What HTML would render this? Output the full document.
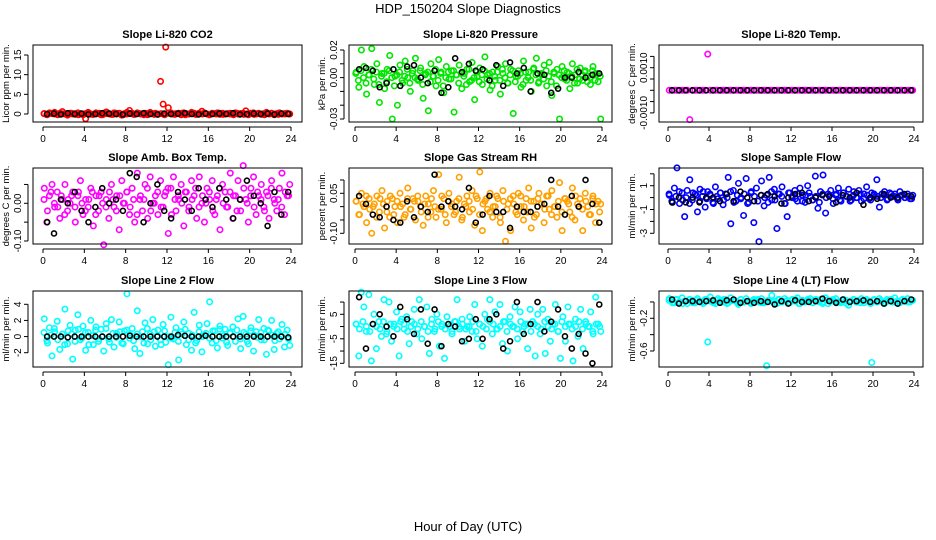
<!DOCTYPE html>
<html><head><meta charset="utf-8"><title>HDP_150204 Slope Diagnostics</title>
<style>
html,body{margin:0;padding:0;background:#fff;}
svg{display:block;font-family:"Liberation Sans",Arial,sans-serif;}
</style></head>
<body>
<svg id="chart" width="936" height="540" viewBox="0 0 936 540" xmlns="http://www.w3.org/2000/svg">
<rect x="0" y="0" width="936" height="540" fill="#fff"/>
<text x="468" y="13" text-anchor="middle" font-size="13">HDP_150204  Slope Diagnostics</text>
<text x="468" y="531" text-anchor="middle" font-size="13">Hour of Day (UTC)</text>
</svg>
<script>
const xTicks = [0,4,8,12,16,20,24];

const co2Color = [0.1,-0.2,0.3,0.1,0.4,-0.1,0.2,0.6,0.1,-0.3,0.2,0.0,-0.1,0.3,0.1,-0.2,-1.2,0.4,0.0,-0.1,0.3,0.1,-0.2,0.2,0.5,0.1,-0.1,0.3,0.0,0.2,-0.3,0.1,0.4,0.9,0.2,-0.1,0.3,0.1,0.0,0.2,-0.2,0.4,0.1,0.2,-0.1,8.3,2.5,17.0,1.6,0.3,0.0,0.1,0.2,-0.2,0.3,0.1,0.0,0.4,0.2,-0.1,0.1,0.7,0.3,0.0,-0.2,0.2,0.1,0.3,-0.1,0.2,0.0,0.1,0.2,-0.1,0.3,0.0,0.1,0.2,0.8,-0.2,0.1,0.3,0.0,0.2,-0.1,0.1,0.4,0.0,0.2,-0.2,0.1,0.3,0.0,0.1,0.2,0.0];
const co2Core = [0.1,-0.1,0.2,0.0,-0.2,0.1,0.0,-0.1,0.2,0.1,-0.2,0.0,0.1,0.2,-0.1,0.0,0.2,-0.2,0.1,0.0,-0.1,0.2,0.1,-0.2,0.0,0.1,-0.1,0.2,0.0,-0.2,0.1,0.2,-0.1,0.0,0.1,-0.2,0.2,0.0,-0.1,0.1,0.2,-0.2,0.0,0.1,-0.1,0.2,0.0,0.1,-0.2,0.1,0.0,0.2,-0.1,0.1,0.0,-0.2,0.2,0.1,-0.1,0.0,0.2,-0.1,0.1,0.0,-0.2,0.1,0.2,0.0,-0.1,0.1,0.0,0.1];
const co2Black = [0,0.1,-0.1,0.2,0,0.1,-0.1,0,0.2,0.1,0,-0.1,0.1,0,0.2,0,-0.1,0.1,0,0.1,0.2,0,-0.1,0.1,0,0.1,0,0.2,-0.1,0,0.1,0,0.1,-0.1,0.1,0];

const presColor = [0.004,-0.007,0.020,0.008,-0.012,0.002,0.021,-0.005,0.010,-0.018,0.003,-0.008,0.006,0.016,-0.030,0.001,-0.020,0.009,-0.004,0.012,0.000,-0.010,0.005,0.014,-0.002,0.007,-0.015,0.003,-0.024,0.010,0.001,-0.006,0.013,0.004,-0.011,0.008,-0.001,0.005,-0.025,0.002,0.009,-0.008,0.003,0.006,-0.003,0.011,-0.016,0.001,0.007,-0.005,0.015,0.002,-0.009,0.004,-0.002,0.008,-0.012,0.003,0.010,-0.004,0.006,-0.026,0.001,0.005,-0.007,0.012,-0.002,0.004,-0.010,0.007,0.014,-0.003,0.002,0.009,-0.006,0.011,-0.013,0.003,0.006,-0.030,0.008,-0.001,0.004,-0.008,0.010,0.002,-0.004,0.007,-0.002,0.005,0.001,-0.005,0.008,0.003,-0.003,-0.030];
const presCore = [0.003,-0.002,0.005,0.000,-0.004,0.002,0.006,-0.001,0.004,-0.005,0.001,0.003,-0.003,0.005,0.000,-0.006,0.002,0.004,-0.002,0.001,0.006,-0.004,0.003,0.000,-0.001,0.005,-0.005,0.002,0.004,-0.003,0.001,0.006,-0.002,0.003,-0.006,0.000,0.004,-0.001,0.005,0.002,-0.004,0.003,0.001,-0.005,0.006,-0.002,0.000,0.004,-0.003,0.002,0.005,-0.001,0.003,-0.006,0.001,0.004,-0.002,0.006,0.000,-0.004,0.002,0.005,-0.003,0.001,0.003,-0.005,0.004,0.000,-0.002,0.006,0.002,-0.004,0.003,-0.001,0.005,0.001,-0.003,0.004,-0.006,0.002,0.000,0.005,-0.002,0.003,0.001,-0.004,0.006,-0.001,0.002,0.004,-0.003,0.000,0.005,-0.002,0.003,0.001];
const presBlack = [0.006,0.007,0.005,-0.007,-0.004,0.006,-0.006,0.008,0.009,0.000,-0.004,0.005,-0.011,-0.007,0.014,0.004,0.010,0.005,0.006,-0.002,0.009,-0.006,0.011,0.003,0.007,-0.010,0.003,0.002,-0.011,-0.008,0.000,0.000,0.004,0.000,0.002,0.003];

const tempColor = [0,0,0,0,0,0,0,0,-0.0013,0,0,0,0,0,0,0.0016,0,0,0,0,0,0,0,0,0,0,0,0,0,0,0,0,0,0,0,0,0,0,0,0,0,0,0,0,0,0,0,0,0,0,0,0,0,0,0,0,0,0,0,0,0,0,0,0,0,0,0,0,0,0,0,0,0,0,0,0,0,0,0,0,0,0,0,0,0,0,0,0,0,0,0,0,0,0,0,0];
const tempCore = [];
const tempBlack = [0,0,0,0,0,0,0,0,0,0,0,0,0,0,0,0,0,0,0,0,0,0,0,0,0,0,0,0,0,0,0,0,0,0,0,0];

const boxColor = [0.04,-0.05,0.02,0.05,-0.01,0.03,-0.04,0.01,0.05,-0.02,0.00,0.03,-0.05,0.02,0.06,-0.03,0.01,-0.01,0.04,-0.06,0.02,-0.02,0.03,-0.11,0.01,-0.04,0.05,-0.01,0.02,-0.07,0.06,0.00,0.03,-0.03,0.04,-0.05,0.08,0.01,-0.02,0.05,-0.04,0.07,0.00,0.02,-0.03,0.06,-0.01,0.03,-0.08,0.04,0.07,-0.02,0.01,0.05,-0.06,0.03,-0.01,0.06,0.02,-0.04,0.07,0.00,-0.05,0.04,0.01,0.06,-0.03,0.02,-0.07,0.05,0.03,-0.01,0.08,-0.04,0.02,0.06,-0.02,0.10,0.01,-0.05,0.04,0.07,-0.03,0.02,0.05,-0.01,0.03,-0.04,0.06,0.01,-0.02,0.04,0.08,-0.03,0.02,0.05];
const boxCore = [0.01,-0.02,0.03,0.00,-0.01,0.02,-0.03,0.01,0.02,-0.01,0.03,0.00,-0.02,0.01,0.03,-0.03,0.02,0.00,-0.01,0.03,0.01,-0.02,0.02,0.00,0.03,-0.01,0.01,-0.03,0.02,0.01,0.04,-0.02,0.00,0.03,-0.01,0.02,0.04,-0.03,0.01,0.02,0.00,0.03,-0.02,0.01,0.04,-0.01,0.02,0.00,0.03,-0.02,0.01,0.04,0.00,-0.01,0.03,0.02,-0.02,0.01,0.04,0.00,0.02,-0.01,0.03,0.01,-0.02,0.02,0.04,0.00,0.01,-0.01,0.03,0.02];
const boxBlack = [-0.05,-0.08,0.01,0.00,0.03,-0.02,-0.05,-0.01,0.04,0.00,0.01,-0.02,0.08,0.07,-0.05,0.00,0.05,-0.02,-0.04,0.03,0.01,-0.02,0.04,0.01,-0.01,0.04,0.01,-0.04,0.01,0.06,0.02,0.00,-0.06,0.03,-0.03,0.03];

const rhColor = [0.02,-0.03,0.05,0.00,-0.06,0.03,-0.10,0.01,0.04,-0.02,0.06,-0.08,0.02,-0.04,0.03,0.00,-0.06,0.05,0.01,-0.03,0.07,-0.01,0.03,-0.05,0.02,0.00,-0.07,0.04,0.01,-0.02,0.06,-0.04,0.12,-0.01,0.03,-0.06,0.05,0.00,-0.03,0.02,0.11,-0.05,0.01,0.04,-0.02,0.06,-0.07,0.03,0.13,-0.09,0.02,-0.01,0.05,-0.04,0.00,0.03,-0.06,0.06,-0.13,0.01,-0.09,0.04,-0.02,0.05,0.00,-0.05,0.03,0.07,-0.08,0.02,-0.03,0.05,0.01,-0.06,0.04,-0.01,0.06,0.00,-0.04,0.09,-0.09,0.03,0.02,-0.02,0.07,-0.05,0.01,0.03,-0.09,0.05,0.00,-0.03,0.04,-0.06,0.02,0.01];
const rhCore = [0.02,-0.03,0.01,0.04,-0.01,0.00,-0.04,0.03,0.01,-0.02,0.04,-0.03,0.02,0.00,-0.04,0.03,-0.01,0.02,0.04,-0.02,0.01,-0.04,0.03,0.00,-0.01,0.04,-0.03,0.02,0.01,-0.02,0.03,-0.04,0.00,0.02,-0.01,0.04,-0.03,0.01,0.03,-0.02,0.00,0.04,-0.04,0.02,-0.01,0.03,0.01,-0.03,0.04,0.00,-0.02,0.02,-0.04,0.03,0.01,-0.01,0.04,-0.03,0.00,0.02,-0.02,0.03,0.01,-0.04,0.04,0.00,-0.01,0.02,-0.03,0.03,0.01,-0.02];
const rhBlack = [0.04,0.01,-0.03,-0.04,0.00,-0.05,-0.06,0.02,-0.04,0.00,-0.02,0.12,0.00,0.02,0.00,-0.01,0.07,-0.06,-0.03,0.04,-0.02,-0.02,-0.08,0.00,-0.02,-0.02,0.00,0.01,0.10,0.00,-0.03,0.04,0.00,0.10,0.01,-0.06];

const flowColor = [0.2,-0.3,0.8,2.5,-0.5,0.4,-1.6,0.6,1.5,-0.2,0.3,-1.2,0.7,0.1,-0.8,0.5,0.2,-0.4,0.9,-0.1,0.4,-0.6,0.3,1.7,-2.2,0.6,-0.3,1.2,0.0,-1.5,1.6,-0.4,0.5,-2.1,0.8,-3.7,1.4,-0.7,0.2,1.7,-0.2,0.7,-2.6,0.3,0.9,-0.5,-1.6,0.4,0.1,0.6,-0.3,0.8,0.2,-0.4,1.0,0.1,-0.2,1.8,-0.9,0.5,1.9,-1.3,0.3,0.6,-0.5,0.2,0.8,-0.3,0.4,0.1,0.7,-0.2,0.5,0.0,0.6,-0.3,0.3,0.9,-0.1,0.4,0.2,1.5,-0.8,0.3,0.5,-0.2,0.4,0.1,0.3,-0.1,0.5,0.2,0.0,0.3,-0.1,0.2];
const flowCore = [0.3,-0.4,0.1,0.5,-0.2,0.0,-0.5,0.4,0.2,-0.3,0.5,-0.1,0.3,-0.5,0.1,0.4,-0.2,0.0,0.5,-0.4,0.2,-0.1,0.3,-0.5,0.4,0.1,-0.3,0.2,0.0,-0.4,0.5,-0.2,0.3,0.1,-0.5,0.4,0.0,-0.1,0.3,-0.3,0.2,0.4,-0.2,0.1,-0.4,0.3,0.0,0.2,-0.1,0.3,-0.2,0.4,0.1,-0.3,0.2,0.0,0.3,-0.1,0.2,-0.2,0.3,0.1,0.0,0.2,-0.1,0.3,0.1,-0.2,0.2,0.0,0.1,-0.1];
const flowBlack = [-0.4,0.0,-0.4,0.0,-0.4,0.0,0.0,-0.3,0.3,-0.3,0.5,0.0,-0.3,0.2,0.3,0.1,-0.5,0.0,0.3,0.4,-0.3,0.0,0.2,0.1,-0.4,0.2,0.0,0.4,-0.6,0.0,-0.1,0.3,0.0,0.0,0.3,0.1];

const line2Color = [2.2,-0.5,1.1,-2.4,0.6,1.9,-1.6,0.3,3.4,-0.9,1.4,-2.8,0.8,2.7,-0.4,1.3,-1.7,0.5,2.0,-1.0,1.2,-0.6,0.9,-1.8,1.6,-0.3,2.1,-1.3,0.4,1.8,-0.8,0.7,5.3,-0.2,1.0,-1.5,3.2,-2.1,0.6,1.7,-0.9,0.3,2.1,-1.2,0.8,-0.4,1.5,-0.7,-3.5,2.4,-0.3,1.1,-2.9,0.6,1.8,-1.0,0.4,-1.7,3.0,-0.5,1.4,-1.9,0.2,1.6,4.3,-0.8,0.7,-1.4,1.3,-0.2,0.9,-1.1,0.5,1.2,-0.6,2.2,-1.5,2.5,0.3,-0.9,1.1,-1.8,0.6,2.1,-0.4,1.0,-2.2,0.7,2.0,-1.6,0.4,-0.3,1.5,-1.3,0.8,-1.1];
const line2Core = [0.5,-0.8,0.2,1.0,-0.4,0.0,-1.0,0.7,0.3,-0.6,0.9,-0.2,0.5,-1.0,0.1,0.8,-0.3,0.0,1.0,-0.7,0.4,-0.1,0.6,-0.9,0.8,0.2,-0.5,0.3,0.0,-0.8,1.0,-0.4,0.6,0.1,-1.0,0.7,0.0,-0.2,0.5,-0.6,0.3,0.9,-0.4,0.2,-0.8,0.6,0.0,0.4,-0.2,0.7,-0.5,0.9,0.1,-0.7,0.4,0.0,0.8,-0.3,0.5,-0.6,0.7,0.2,-0.1,0.5,-0.4,0.8,0.2,-0.5,0.6,0.0,0.3,-0.3];
const line2Black = [0,0,0,-0.1,0,0,0,0,0,0,0,0,0.1,0,0,0,0,0,0,0.2,0.1,0,0,0.1,0,0,0,0,0,0,0,0,0,0,0,-0.1];

const line3Color = [1,-12,14,8,-2,13,-14,5,-9,2,-4,11,-3,10,-6,1,6,-12,3,-1,4,-7,2,7,-3,11,-5,0,8,-11,3,-2,5,-8,1,-13,4,0,-3,2,11,-1,3,-6,0,4,-2,9,-5,1,-8,5,3,11,-3,6,-1,9,-7,2,-10,4,0,8,-5,6,-2,1,-9,7,2,-12,5,-3,7,-11,3,-6,1,9,-2,-13,4,-6,8,1,-14,3,-4,7,-9,2,0,6,-3,12,1,-2];
const line3Core = [1,-1,2,0,-2,1,0,-1,2,-2,1,0,-1,2,1,-2,0,1,-1,2,0,-2,1,-1,2,0,-1,1,-2,2,0,1,-1,0,2,-2,1,0,-1,2,1,-1,0,2,-2,1,0,-1,2,0,1,-2,1,0,-1,2,0,-1,1,-2,2,0,1,-1,0,2,-1,1,0,-2,1,0];
const line3Black = [12,-9,1,5,0,-4,8,3,-3,7,-7,7,-8,1,0,-6,-5,3,-5,3,5,-9,-6,10,-3,1,10,-2,2,7,-4,-9,-3,-11,-15,9];

const line4Color = [0.04,0.02,-0.01,0.03,0.00,0.05,0.01,-0.02,0.03,0.02,-0.01,0.04,0.01,0.00,0.03,-0.49,0.06,0.01,-0.02,0.04,0.02,0.00,0.03,-0.01,0.05,0.02,0.01,-0.03,0.03,0.00,0.04,0.01,-0.01,0.03,0.02,0.00,0.04,-0.01,-0.78,0.02,0.08,0.01,-0.02,0.03,0.00,0.04,0.02,-0.01,0.03,0.01,0.05,-0.02,0.02,0.00,0.03,0.04,-0.01,0.02,0.01,0.03,0.00,0.05,-0.02,0.02,0.01,0.04,0.00,-0.01,0.03,0.02,-0.04,0.01,0.03,0.00,0.02,0.04,-0.01,0.03,0.01,-0.74,0.02,0.00,0.04,0.01,-0.02,0.03,0.02,0.00,0.05,0.01,-0.01,0.03,0.02,0.04,0.00,0.02];
const line4Core = [0.02,-0.01,0.03,0.00,-0.02,0.01,0.03,-0.01,0.02,0.00,-0.02,0.03,0.01,-0.01,0.02,0.00,0.03,-0.02,0.01,0.02,-0.01,0.03,0.00,0.01,-0.02,0.02,0.03,-0.01,0.00,0.02,0.01,-0.02,0.03,0.00,0.01,-0.01,0.02,0.03,-0.02,0.00,0.01,0.02,-0.01,0.03,0.00,-0.02,0.02,0.01,0.03,-0.01,0.00,0.02,-0.02,0.01,0.03,0.00,-0.01,0.02,0.01,-0.02,0.03,0.00,0.02,-0.01,0.01,0.03,0.00,-0.02,0.02,0.01,0.00,0.02];
const line4Black = [0.03,-0.02,0.01,0.01,0.00,0.01,0.02,-0.01,0.02,0.03,-0.01,0.01,-0.01,0.01,0.00,-0.03,0.01,-0.02,0.02,0.00,0.00,0.01,0.04,0.01,-0.01,0.03,0.00,0.01,0.02,0.00,0.01,-0.02,0.01,-0.02,0.01,0.03];

const co2Ticks=[0,5,10,15], co2Labels=["0","5","10","15"];
const presTicks=[0.02,0.01,0,-0.01,-0.02,-0.03], presLabels=["0.02","","0.00","","","-0.03"];
const tempTicks=[0.0015,0.001,0.0005,0,-0.0005,-0.001], tempLabels=["","0.0010","","","","-0.0010"];
const boxTicks=[0.05,0,-0.05,-0.1], boxLabels=["","0.00","","-0.10"];
const rhTicks=[0.1,0.05,0,-0.05,-0.1], rhLabels=["","0.05","","","-0.10"];
const flowTicks=[2,1,0,-1,-2,-3], flowLabels=["","1","","-1","","-3"];
const line2Ticks=[4,2,0,-2], line2Labels=["4","2","0","-2"];
const line3Ticks=[10,5,0,-5,-10,-15], line3Labels=["","5","","-5","","-15"];
const line4Ticks=[0,-0.2,-0.4,-0.6], line4Labels=["","-0.2","","-0.6"];

const NS="http://www.w3.org/2000/svg";
const svg=document.getElementById('chart');
function mk(tag,attrs,parent){const e=document.createElementNS(NS,tag);for(const k in attrs)e.setAttribute(k,attrs[k]);(parent||svg).appendChild(e);return e;}

const panels=[
 {key:'co2',title:'Slope Li-820 CO2',ylab:'Licor ppm per min.',col:'#ff0000',c:co2Color,k:co2Core,b:co2Black,t:co2Ticks,l:co2Labels,L:33,R:302,T:45,B:122,x0:43,x24:291,v1:0,p1:114,v2:15,p2:55},
 {key:'pressure',title:'Slope Li-820 Pressure',ylab:'kPa per min.',col:'#00e600',c:presColor,k:presCore,b:presBlack,t:presTicks,l:presLabels,L:349,R:612,T:45,B:122,x0:355,x24:602,v1:0.02,p1:50,v2:-0.03,p2:119},
 {key:'temp',title:'Slope Li-820 Temp.',ylab:'degrees C per min.',col:'#ff00ff',c:tempColor,k:tempCore,b:tempBlack,t:tempTicks,l:tempLabels,L:659,R:923,T:45,B:122,x0:668,x24:914,v1:0,p1:90.3,v2:0.001,p2:67.7},
 {key:'box-temp',title:'Slope Amb. Box Temp.',ylab:'degrees C per min.',col:'#ff00ff',c:boxColor,k:boxCore,b:boxBlack,t:boxTicks,l:boxLabels,L:33,R:302,T:168,B:244,x0:43,x24:291,v1:0,p1:203.3,v2:-0.1,p2:241},
 {key:'rh',title:'Slope Gas Stream RH',ylab:'percent per min.',col:'#ffa000',c:rhColor,k:rhCore,b:rhBlack,t:rhTicks,l:rhLabels,L:349,R:612,T:168,B:244,x0:355,x24:602,v1:0.05,p1:193.3,v2:-0.1,p2:233.3},
 {key:'sample-flow',title:'Slope Sample Flow',ylab:'ml/min per min.',col:'#0000ff',c:flowColor,k:flowCore,b:flowBlack,t:flowTicks,l:flowLabels,L:659,R:923,T:168,B:244,x0:668,x24:914,v1:1,p1:185.7,v2:-3,p2:233.3},
 {key:'line2',title:'Slope Line 2 Flow',ylab:'ml/min per min.',col:'#00ffff',c:line2Color,k:line2Core,b:line2Black,t:line2Ticks,l:line2Labels,L:33,R:302,T:291,B:367,x0:43,x24:291,v1:4,p1:304.3,v2:-2,p2:352.7},
 {key:'line3',title:'Slope Line 3 Flow',ylab:'ml/min per min.',col:'#00ffff',c:line3Color,k:line3Core,b:line3Black,t:line3Ticks,l:line3Labels,L:349,R:612,T:291,B:367,x0:355,x24:602,v1:5,p1:314.3,v2:-15,p2:363.3},
 {key:'line4',title:'Slope Line 4 (LT) Flow',ylab:'ml/min per min.',col:'#00ffff',c:line4Color,k:line4Core,b:line4Black,t:line4Ticks,l:line4Labels,L:659,R:923,T:291,B:367,x0:668,x24:914,v1:-0.2,p1:318.3,v2:-0.6,p2:351}
];

panels.forEach(p=>{
  const g=mk('g',{});
  
  
  const xs=h=>p.x0+(p.x24-p.x0)*h/24;
  const ys=v=>p.p1+(v-p.v1)*(p.p2-p.p1)/(p.v2-p.v1);
  const title=mk('text',{x:(p.L+p.R)/2,y:p.T-7,'text-anchor':'middle','font-size':11,'font-weight':'bold'},g);
  title.textContent=p.title;
  
  
  const pts=mk('g',{fill:'none','stroke-width':1.6},g);
  
  
  const n=p.c.length;
  p.c.forEach((v,i)=>{
    const c=mk('circle',{cx:xs((i+0.5)*24/n),cy:ys(v),r:2.7,stroke:p.col},pts);
    
    
  });
  const nk=p.k.length;
  p.k.forEach((v,i)=>{
    const c=mk('circle',{cx:xs((i+0.3)*24/nk),cy:ys(v),r:2.7,stroke:p.col},pts);
    
    
  });
  const m=p.b.length;
  p.b.forEach((v,i)=>{
    const c=mk('circle',{cx:xs((i+0.6)*24/m),cy:ys(v),r:2.5,stroke:'#000','stroke-width':1.6},pts);
    
    
  });
  const box=mk('rect',{x:p.L,y:p.T,width:p.R-p.L,height:p.B-p.T,fill:'none',stroke:'#000','stroke-width':1},g);
  
  
  const xa=mk('g',{},g);
  
  
  mk('line',{x1:xs(0),x2:xs(24),y1:p.B+5,y2:p.B+5,stroke:'#000'},xa);
  xTicks.forEach(h=>{
    mk('line',{x1:xs(h),x2:xs(h),y1:p.B+5,y2:p.B+9,stroke:'#000'},xa);
    const t=mk('text',{x:xs(h),y:p.B+20,'text-anchor':'middle','font-size':10},xa);
    t.textContent=h;
    
    
  });
  const ya=mk('g',{},g);
  
  
  mk('line',{x1:p.L-5,x2:p.L-5,y1:ys(p.t[0]),y2:ys(p.t[p.t.length-1]),stroke:'#000'},ya);
  p.t.forEach((v,i)=>{
    const y=ys(v);
    mk('line',{x1:p.L-9,x2:p.L-5,y1:y,y2:y,stroke:'#000'},ya);
    if(p.l[i]){
      const t=mk('text',{x:p.L-12,y:y,'text-anchor':'middle','font-size':10,transform:`rotate(-90 ${p.L-12} ${y})`},ya);
      t.textContent=p.l[i];
      
      
    }
  });
  const cy=(p.T+p.B)/2;
  const yl=mk('text',{x:p.L-24,y:cy,'text-anchor':'middle','font-size':9.5,transform:`rotate(-90 ${p.L-24} ${cy})`},g);
  yl.textContent=p.ylab;
  
  
});
</script>
</body></html>
